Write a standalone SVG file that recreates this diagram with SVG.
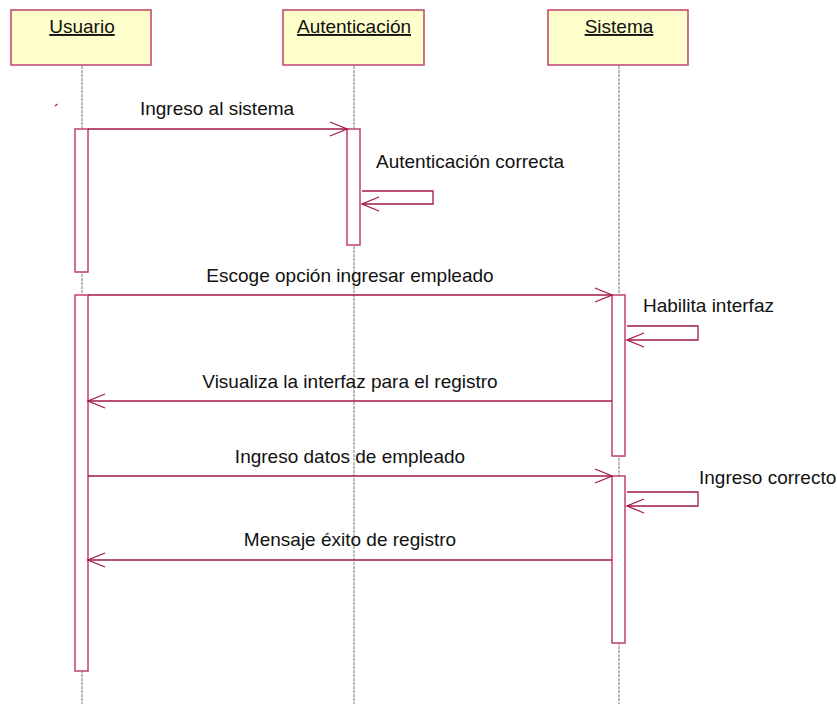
<svg xmlns="http://www.w3.org/2000/svg" width="837" height="704" viewBox="0 0 837 704">
<style>
.box{fill:#FFFFCC;stroke:#C0406A;stroke-width:1.5}
.hdr{font-family:"Liberation Sans",Arial,sans-serif;font-size:19px;fill:#111;text-anchor:middle;text-decoration:underline}
.life{stroke:#777;stroke-width:1;stroke-dasharray:3 1}
.act{fill:#fff;stroke:#C0406A;stroke-width:1.5}
.msg{stroke:#A0184A;stroke-width:1.3;fill:none}
.lbl{font-family:"Liberation Sans",Arial,sans-serif;font-size:19px;fill:#111}
.mid{text-anchor:middle}
</style>
<rect width="837" height="704" fill="#fff"/>
<g id="lifelines">
<line class="life" x1="82" y1="66" x2="82" y2="704"/>
<line class="life" x1="354" y1="66" x2="354" y2="704"/>
<line class="life" x1="619" y1="66" x2="619" y2="704"/>
</g>
<g id="usuario">
<rect class="box" x="11" y="10" width="140" height="55"/>
<text class="hdr" x="82" y="33">Usuario</text>
<rect class="act" x="75" y="129" width="13" height="143"/>
<rect class="act" x="75" y="295" width="13" height="376"/>
</g>
<g id="autenticacion">
<rect class="box" x="283" y="10" width="141" height="55"/>
<text class="hdr" x="354" y="33">Autenticación</text>
<rect class="act" x="347" y="129" width="13" height="116"/>
</g>
<g id="sistema">
<rect class="box" x="548" y="10" width="140" height="55"/>
<text class="hdr" x="619" y="33">Sistema</text>
<rect class="act" x="612" y="295" width="13" height="161"/>
<rect class="act" x="612" y="476" width="13" height="167"/>
</g>
<g id="connectors">
<line class="msg" x1="55" y1="106" x2="57.5" y2="104"/>
<polyline class="msg" points="88,129 347,129"/>
<polyline class="msg" points="330,122 347,129 330,136"/>
<polyline class="msg" points="362,191 433,191 433,204 362,204"/>
<polyline class="msg" points="379,197 362,204 379,211"/>
<polyline class="msg" points="88,295 612,295"/>
<polyline class="msg" points="595,288 612,295 595,302"/>
<polyline class="msg" points="627,326 698,326 698,340 627,340"/>
<polyline class="msg" points="644,333 627,340 644,347"/>
<polyline class="msg" points="612,401 88,401"/>
<polyline class="msg" points="105,394 88,401 105,408"/>
<polyline class="msg" points="88,476 612,476"/>
<polyline class="msg" points="595,469 612,476 595,483"/>
<polyline class="msg" points="627,492 698,492 698,506 627,506"/>
<polyline class="msg" points="644,499 627,506 644,513"/>
<polyline class="msg" points="612,560 88,560"/>
<polyline class="msg" points="105,553 88,560 105,567"/>
</g>
<g id="labels">
<text class="lbl mid" x="217" y="115">Ingreso al sistema</text>
<text class="lbl" x="376" y="168">Autenticación correcta</text>
<text class="lbl mid" x="350" y="282">Escoge opción ingresar empleado</text>
<text class="lbl" x="643" y="312">Habilita interfaz</text>
<text class="lbl mid" x="350" y="388">Visualiza la interfaz para el registro</text>
<text class="lbl mid" x="350" y="463">Ingreso datos de empleado</text>
<text class="lbl" x="699" y="484">Ingreso correcto</text>
<text class="lbl mid" x="350" y="546">Mensaje éxito de registro</text>
</g>
</svg>
